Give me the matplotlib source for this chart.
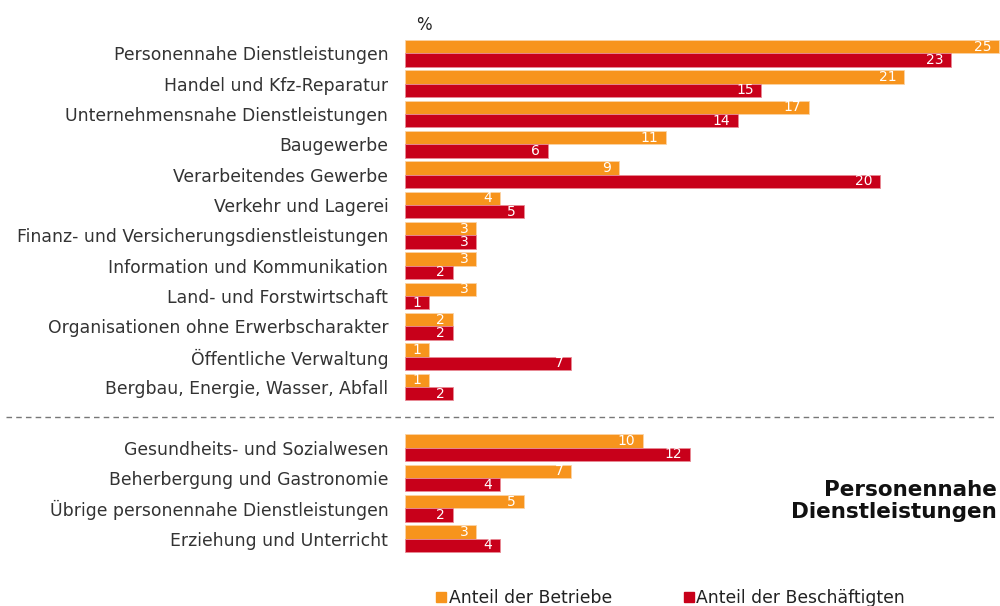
import matplotlib
matplotlib.use("Agg")
import matplotlib.pyplot as plt
from matplotlib.lines import Line2D

plt.rcParams['font.family'] = ['DejaVu Sans']

categories_top = [
    "Personennahe Dienstleistungen",
    "Handel und Kfz-Reparatur",
    "Unternehmensnahe Dienstleistungen",
    "Baugewerbe",
    "Verarbeitendes Gewerbe",
    "Verkehr und Lagerei",
    "Finanz- und Versicherungsdienstleistungen",
    "Information und Kommunikation",
    "Land- und Forstwirtschaft",
    "Organisationen ohne Erwerbscharakter",
    "Öffentliche Verwaltung",
    "Bergbau, Energie, Wasser, Abfall",
]
betriebe_top = [25, 21, 17, 11, 9, 4, 3, 3, 3, 2, 1, 1]
beschaeftigte_top = [23, 15, 14, 6, 20, 5, 3, 2, 1, 2, 7, 2]

categories_bottom = [
    "Gesundheits- und Sozialwesen",
    "Beherbergung und Gastronomie",
    "Übrige personennahe Dienstleistungen",
    "Erziehung und Unterricht",
]
betriebe_bottom = [10, 7, 5, 3]
beschaeftigte_bottom = [12, 4, 2, 4]

series_names = ["Anteil der Betriebe", "Anteil der Beschäftigten"]
colors = ["#F7941D", "#C8001A"]
unit_label = "%"
group_title = "Personennahe\nDienstleistungen"

categories = categories_top + categories_bottom
betriebe = betriebe_top + betriebe_bottom
beschaeftigte = beschaeftigte_top + beschaeftigte_bottom
n_top = len(categories_top)
ypos = list(range(n_top)) + [n_top + 1 + i for i in range(len(categories_bottom))]

W, H = 1000, 606
fig = plt.figure(figsize=(W / 100, H / 100), dpi=100)
ax = fig.add_axes([0.405, 0.0861, 0.595, 0.851])

bh = 0.44
y_or = [y - bh / 2 for y in ypos]
y_rd = [y + bh / 2 for y in ypos]
b1 = ax.barh(y_or, betriebe, height=bh, color=colors[0], edgecolor="#fbd3a5", linewidth=0.6)
b2 = ax.barh(y_rd, beschaeftigte, height=bh, color=colors[1], edgecolor="#e88a95", linewidth=0.6)

for bars, vals in ((b1, betriebe), (b2, beschaeftigte)):
    for rect, v in zip(bars, vals):
        ax.annotate(str(v), xy=(rect.get_width(), rect.get_y() + rect.get_height() / 2),
                    xytext=(-5.5, 0), textcoords="offset points", ha="right", va="center",
                    color="white", fontsize=10)

ax.set_xlim(0, 25.05)
ax.set_ylim(ypos[-1] + 0.5, -0.5)
ax.set_yticks(ypos)
ax.set_yticklabels(categories, fontsize=12.4, color="#333333")
ax.tick_params(axis="y", length=0, pad=12)
ax.set_xticks([])
for s in ax.spines.values():
    s.set_visible(False)

# separator line between groups
sep_y = n_top
ax.plot([-16.8, 24.9], [sep_y, sep_y], transform=ax.transData, clip_on=False,
        color="#777777", linestyle=(0, (4, 3)), linewidth=1)

ax.text(0.45, -0.65, unit_label, transform=ax.transData, fontsize=12, color="#222222",
        ha="left", va="bottom")

fig.text(0.997, 1 - 501 / H, group_title, ha="right", va="center", fontsize=15.5,
         fontweight="bold", color="#111111", linespacing=1.15)

handles = [Line2D([], [], marker="s", linestyle="none", markersize=7.5, color=c) for c in colors]
fig.legend(handles, series_names, loc="center left", bbox_to_anchor=(0.428, 1 - 598 / H),
           ncol=2, frameon=False, fontsize=12.4, handlelength=0.55, handletextpad=0.15,
           columnspacing=4.2, borderpad=0, labelcolor="#222222")

fig.savefig("out.png", dpi=100)
